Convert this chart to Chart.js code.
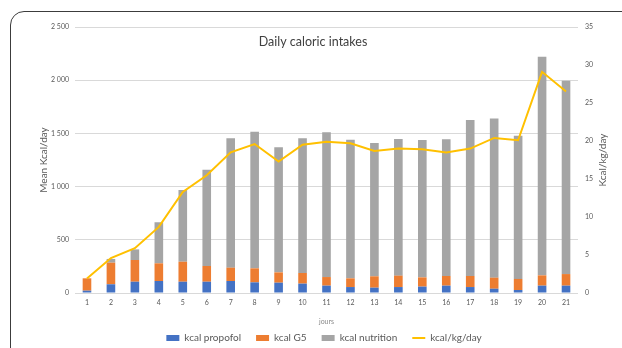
<!DOCTYPE html>
<html>
<head>
<meta charset="utf-8">
<script src="https://cdn.jsdelivr.net/npm/chart.js@4/dist/chart.umd.min.js"></script>
<style>
  html, body { margin: 0; padding: 0; background: #fff; }
  #wrap { position: relative; width: 622px; height: 348px; overflow: hidden; background: #fff; }
  #frame { position: absolute; left: 10px; top: 11px; width: 700px; height: 500px;
           border: 1.5px solid #3c3c3c; border-radius: 14px; box-sizing: border-box; }
  #c { position: absolute; left: 0; top: 0; }
</style>
</head>
<body>
<div id="wrap">
  <div id="frame"></div>
  <canvas id="c" width="622" height="348"></canvas>
</div>
<script>
// ---- data ----
const days = ['1','2','3','4','5','6','7','8','9','10','11','12','13','14','15','16','17','18','19','20','21'];
const kcalPropofol = [22, 82, 106, 113, 106, 106, 113, 100, 97, 88, 69, 56, 50, 56, 60, 69, 56, 40, 28, 69, 69];
const kcalG5 = [116, 203, 204, 166, 188, 148, 125, 132, 97, 100, 81, 82, 107, 107, 87, 91, 104, 104, 104, 97, 109];
const kcalNutrition = [0, 35, 100, 386, 674, 905, 1216, 1284, 1176, 1266, 1360, 1303, 1253, 1285, 1291, 1285, 1466, 1495, 1347, 2055, 1818];
const kcalPerKg = [1.9, 4.6, 5.9, 8.7, 13.3, 15.5, 18.5, 19.6, 17.3, 19.5, 19.9, 19.7, 18.7, 19.0, 18.9, 18.5, 19.0, 20.4, 20.1, 29.1, 26.5];
const leftTicks = [0, 500, 1000, 1500, 2000, 2500];
const rightTicks = [0, 5, 10, 15, 20, 25, 30, 35];

const chartTitle = 'Daily caloric intakes';
const leftTitle = 'Mean Kcal/day';
const rightTitle = 'Kcal/kg/day';
const xTitle = 'jours';

const FONT = 'Lato, "Open Sans", sans-serif';
const PAD_LEFT = 26, PAD_BOTTOM = -5;
const fmt = v => String(v).replace(/\B(?=(\d{3})+(?!\d))/g, ' ');

const textPlugin = {
  id: 'texts',
  afterDraw(chart) {
    const {ctx, chartArea} = chart;
    const midY = (chartArea.top + chartArea.bottom) / 2;
    const midX = (chartArea.left + chartArea.right) / 2;
    ctx.save();
    ctx.textAlign = 'center';
    ctx.textBaseline = 'middle';
    ctx.fillStyle = '#404040';
    ctx.font = '12.5px ' + FONT;
    ctx.fillText(chartTitle, 313, 42);
    ctx.fillStyle = '#595959';
    ctx.font = '10px ' + FONT;
    ctx.save();
    ctx.translate(44, midY);
    ctx.rotate(-Math.PI / 2);
    ctx.fillText(leftTitle, 0, 0);
    ctx.restore();
    ctx.save();
    ctx.translate(603, midY);
    ctx.rotate(-Math.PI / 2);
    ctx.fillText(rightTitle, 0, 0);
    ctx.restore();
    ctx.fillStyle = '#8a8a8a';
    ctx.font = '7px ' + FONT;
    ctx.fillText(xTitle, midX, 322);
    ctx.restore();
  }
};

new Chart(document.getElementById('c'), {
  data: {
    labels: days,
    datasets: [
      { type: 'bar', label: 'kcal propofol', data: kcalPropofol, backgroundColor: '#4472C4', yAxisID: 'y', stack: 's', order: 1 },
      { type: 'bar', label: 'kcal G5', data: kcalG5, backgroundColor: '#ED7D31', yAxisID: 'y', stack: 's', order: 1 },
      { type: 'bar', label: 'kcal nutrition', data: kcalNutrition, backgroundColor: '#A5A5A5', yAxisID: 'y', stack: 's', order: 1 },
      { type: 'line', label: 'kcal/kg/day', data: kcalPerKg, borderColor: '#FFC000', backgroundColor: '#FFC000',
        borderWidth: 2, pointRadius: 0, tension: 0, yAxisID: 'y2', order: 0 }
    ]
  },
  options: {
    responsive: false,
    animation: false,
    devicePixelRatio: 1,
    layout: { padding: { top: 27, left: PAD_LEFT, right: 0, bottom: PAD_BOTTOM } },
    datasets: { bar: { categoryPercentage: 1, barPercentage: 0.36 } },
    scales: {
      x: {
        stacked: true,
        grid: { display: false, drawTicks: false },
        border: { display: false },
        ticks: { color: '#595959', font: { size: 7, family: FONT }, padding: 6, maxRotation: 0, autoSkip: false },
        afterFit(s) {
          const lh = s.chart.legend ? s.chart.legend.height : 0;
          s.height = s.chart.height - PAD_BOTTOM - lh - 293;
        }
      },
      y: {
        position: 'left',
        stacked: true,
        min: 0, max: 2500,
        afterBuildTicks(s) { s.ticks = leftTicks.map(v => ({ value: v })); },
        grid: { color: '#D9D9D9', drawTicks: false, lineWidth: 1 },
        border: { display: false },
        ticks: { color: '#595959', font: { size: 7, family: FONT }, padding: 6, callback: v => fmt(v) },
        afterFit(s) { s.width = 75 - PAD_LEFT; }
      },
      y2: {
        position: 'right',
        min: 0, max: 35,
        afterBuildTicks(s) { s.ticks = rightTicks.map(v => ({ value: v })); },
        grid: { display: false, drawTicks: false },
        border: { display: false },
        ticks: { color: '#595959', font: { size: 7, family: FONT }, padding: 7 },
        afterFit(s) { s.width = 44; }
      }
    },
    plugins: {
      title: { display: false },
      tooltip: { enabled: false },
      legend: {
        position: 'bottom',
        labels: {
          color: '#595959',
          font: { size: 10, family: FONT },
          usePointStyle: true,
          pointStyleWidth: 13,
          boxHeight: 6,
          padding: 15,
          generateLabels(chart) {
            const items = Chart.defaults.plugins.legend.labels.generateLabels(chart);
            items.forEach(it => {
              if (it.datasetIndex === 3) {
                it.pointStyle = 'line'; it.strokeStyle = '#FFC000'; it.lineWidth = 2;
              } else {
                it.pointStyle = 'rect'; it.lineWidth = 0; it.strokeStyle = 'rgba(0,0,0,0)';
              }
            });
            items.sort((a, b) => a.datasetIndex - b.datasetIndex);
            return items;
          }
        }
      }
    }
  },
  plugins: [textPlugin]
});
</script>
</body>
</html>
